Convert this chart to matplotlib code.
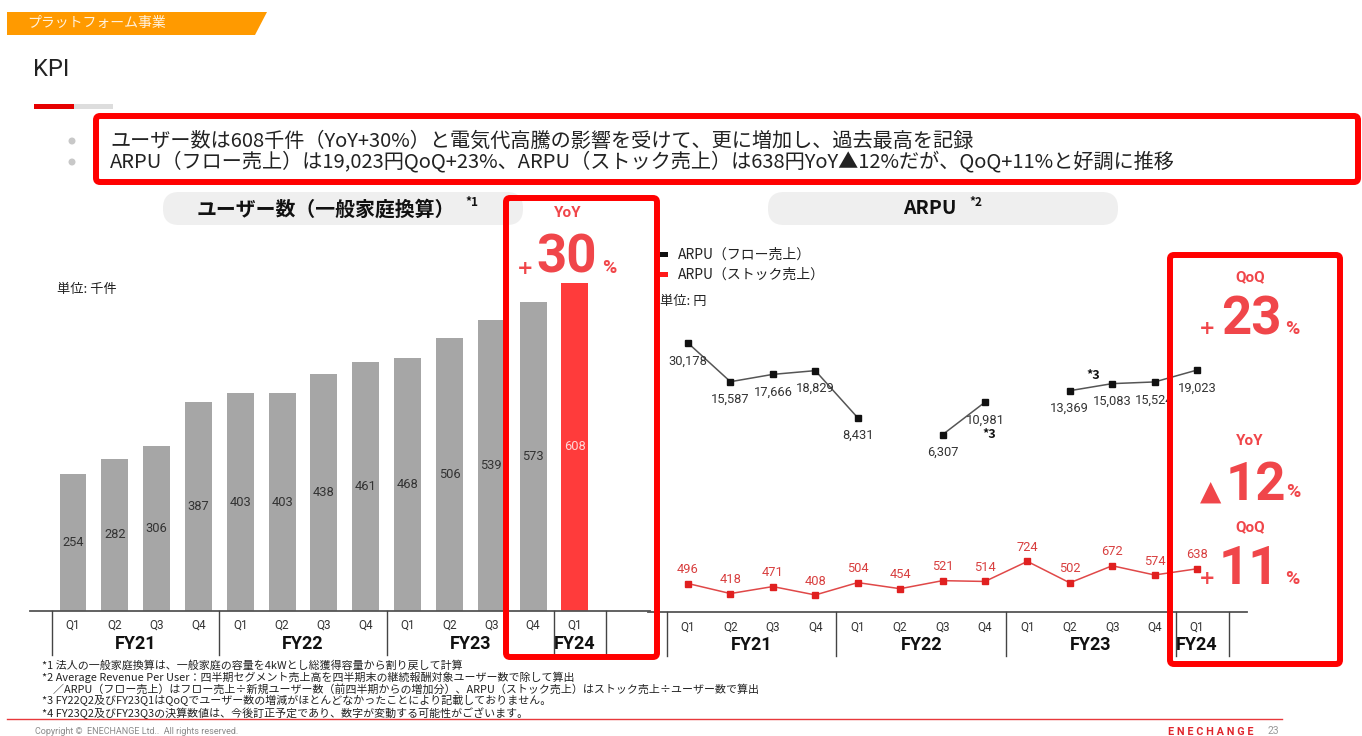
import numpy as np
import matplotlib
matplotlib.use("Agg")
import matplotlib.pyplot as plt
from matplotlib.patches import FancyBboxPatch, Polygon, Rectangle, Circle

plt.rcParams['font.family'] = ['Noto Sans CJK JP', 'DejaVu Sans']

# ---------------- data ----------------
quarters = ['Q1', 'Q2', 'Q3', 'Q4', 'Q1', 'Q2', 'Q3', 'Q4', 'Q1', 'Q2', 'Q3', 'Q4', 'Q1']
fiscal_years = ['FY21', 'FY22', 'FY23', 'FY24']
fy_groups = [(0, 3), (4, 7), (8, 11), (12, 12)]
users = [254, 282, 306, 387, 403, 403, 438, 461, 468, 506, 539, 573, 608]
arpu_flow = [30178, 15587, 17666, 18829, 8431, np.nan, 6307, 10981, np.nan, 13369, 15083, 15524, 19023]
arpu_stock = [496, 418, 471, 408, 504, 454, 521, 514, 724, 502, 672, 574, 638]

W, H = 1362, 736
fig = plt.figure(figsize=(W / 100, H / 100), dpi=100)
fig.patch.set_facecolor('white')


def rect(x0, y0, x1, y1):
    return [x0 / W, 1 - y1 / H, (x1 - x0) / W, (y1 - y0) / H]


RED_TXT = '#f0464a'
BOX_RED = '#ff0000'
RB = ['Roboto', 'DejaVu Sans']

# ---------------- background layer ----------------
bg = fig.add_axes([0, 0, 1, 1], zorder=0)
bg.set_xlim(0, W)
bg.set_ylim(H, 0)
bg.axis('off')

bg.add_patch(Polygon([(7, 12), (267, 12), (255, 35), (7, 35)], closed=True,
                     facecolor='#ff9a00', edgecolor='none'))
bg.text(27, 23, 'プラットフォーム事業', color='#fff3e0', fontsize=10, va='center', ha='left')
bg.text(33, 70, 'KPI', color='#222222', fontsize=17, va='center', ha='left', family=RB)
bg.add_patch(Rectangle((34, 104), 40, 5, facecolor='#e60000', edgecolor='none'))
bg.add_patch(Rectangle((74, 104), 39, 5, facecolor='#dddddd', edgecolor='none'))

for yy in (141, 162):
    bg.add_patch(Circle((72, yy), 3.5, facecolor='#c8c8c8', edgecolor='none'))
bg.text(110, 141, 'ユーザー数は608千件（YoY+30%）と電気代高騰の影響を受けて、更に増加し、過去最高を記録',
        fontsize=14.5, va='center', ha='left', color='#222222')
bg.text(110, 162, 'ARPU（フロー売上）は19,023円QoQ+23%、ARPU（ストック売上）は638円YoY▲12%だが、QoQ+11%と好調に推移',
        fontsize=14.5, va='center', ha='left', color='#222222')

# header pills
bg.add_patch(FancyBboxPatch((163, 192), 360, 33, boxstyle='round,pad=0,rounding_size=16',
                            facecolor='#efefef', edgecolor='none'))
bg.text(326, 209, 'ユーザー数（一般家庭換算）', fontsize=14.3, fontweight='bold', va='center',
        ha='center', color='#111111')
bg.text(472, 203, '*1', fontsize=8.5, fontweight='bold', va='center', ha='center', color='#111111')
bg.add_patch(FancyBboxPatch((768, 192), 350, 33, boxstyle='round,pad=0,rounding_size=16',
                            facecolor='#efefef', edgecolor='none'))
bg.text(930, 209, 'ARPU', fontsize=14, fontweight='bold', va='center', ha='center', color='#111111')
bg.text(976, 203, '*2', fontsize=8.5, fontweight='bold', va='center', ha='center', color='#111111')

bg.text(57, 290, '単位: 千件', fontsize=9.5, va='center', ha='left', color='#222222')

# line legend
bg.add_patch(Rectangle((660, 252), 8, 5, facecolor='#111111', edgecolor='none'))
bg.add_patch(Rectangle((660, 272), 8, 5, facecolor='#ff1a1a', edgecolor='none'))
bg.text(678, 255, 'ARPU（フロー売上）', fontsize=10, va='center', ha='left', color='#222222')
bg.text(678, 275, 'ARPU（ストック売上）', fontsize=10, va='center', ha='left', color='#222222')
bg.text(660, 301, '単位: 円', fontsize=9.5, va='center', ha='left', color='#222222')

# footnotes
notes = [
    '*1 法人の一般家庭換算は、一般家庭の容量を4kWとし総獲得容量から割り戻して計算',
    '*2 Average Revenue Per User：四半期セグメント売上高を四半期末の継続報酬対象ユーザー数で除して算出',
    '　／ARPU（フロー売上）はフロー売上÷新規ユーザー数（前四半期からの増加分）、ARPU（ストック売上）はストック売上÷ユーザー数で算出',
    '*3 FY22Q2及びFY23Q1はQoQでユーザー数の増減がほとんどなかったことにより記載しておりません。',
    '*4 FY23Q2及びFY23Q3の決算数値は、今後訂正予定であり、数字が変動する可能性がございます。',
]
for k, t in enumerate(notes):
    bg.text(42, 665 + 12 * k, t, fontsize=7.9, va='center', ha='left', color='#222222')

bg.plot([7, 1282], [719, 719], color='#e8383c', lw=1)
bg.text(35, 731, 'Copyright ©  ENECHANGE Ltd..  All rights reserved.', fontsize=6.5,
        va='center', ha='left', color='#8a8a8a', family=RB)
bg.text(1168, 732, 'E N E C H A N G E', fontsize=7.8, fontweight='bold', va='center', ha='left',
        color='#e0262d', family=RB)
bg.text(1268, 731, '23', fontsize=7.5, va='center', ha='left', color='#9a9a9a', family=RB)

# ---------------- bar chart ----------------
x = np.arange(len(users))
axb = fig.add_axes(rect(30, 230, 650, 611), zorder=5)
axb.axis('off')
bx0, bstep = 73, 41.83
axb.set_xlim((30 - bx0) / bstep, (650 - bx0) / bstep)
axb.set_ylim(0, 381 / 0.54)
colors = ['#a6a6a6'] * (len(users) - 1) + ['#ff3b3b']
axb.bar(x, users, width=0.645, color=colors, zorder=2)
for i, v in enumerate(users):
    axb.text(i, v / 2, f'{v}', ha='center', va='center', fontsize=9.3,
             color='#ffd6d6' if i == len(users) - 1 else '#333333', family=RB)
tr = axb.get_xaxis_transform()
axb.plot([-1.03, 13.79], [0, 0], transform=tr, color='#555555', lw=1.3, clip_on=False)
seps = [g[0] - 0.5 for g in fy_groups] + [12.75]
hb = 381
for s in seps:
    axb.plot([s, s], [0, -44 / hb], transform=tr, color='#444444', lw=1, clip_on=False)
for i, q in enumerate(quarters):
    axb.text(i, -14 / hb, q, transform=tr, ha='center', va='center', fontsize=8.5,
             color='#333333', family=RB, clip_on=False)
for fy, (a, b) in zip(fiscal_years, fy_groups):
    axb.text((a + b) / 2, -33 / hb, fy, transform=tr, ha='center', va='center', fontsize=13,
             fontweight='bold', color='#111111', family=RB, clip_on=False)

# ---------------- line chart (log scale) ----------------
axl = fig.add_axes(rect(648, 330, 1247, 612), zorder=5)
axl.axis('off')
lx0, lstep = 688, 42.42
axl.set_xlim((648 - lx0) / lstep, (1247 - lx0) / lstep)
axl.set_yscale('log')
axl.set_ylim(305, 37700)
axl.plot(x, arpu_flow, color='#555555', lw=1.1, marker='s', ms=3.8, mfc='#111111', mec='#111111')
axl.plot(x, arpu_stock, color='#e04848', lw=1.1, marker='s', ms=3.8, mfc='#e02020', mec='#e02020')
for i, v in enumerate(arpu_flow):
    if np.isfinite(v):
        axl.annotate(f'{int(v):,}', (i, v), xytext=(0, -13), textcoords='offset points',
                     ha='center', va='center', fontsize=9.3, color='#333333', family=RB)
for i, v in enumerate(arpu_stock):
    axl.annotate(f'{v}', (i, v), xytext=(0, 10), textcoords='offset points',
                 ha='center', va='center', fontsize=9.3, color='#d84040', family=RB)
# note *3 markers
axl.annotate('*3', (7, arpu_flow[7]), xytext=(3, -23), textcoords='offset points',
             ha='center', va='center', fontsize=9, fontweight='bold', color='#111111')
axl.annotate('*3', (9, arpu_flow[9]), xytext=(17, 11), textcoords='offset points',
             ha='center', va='center', fontsize=9, fontweight='bold', color='#111111')
trl = axl.get_xaxis_transform()
hl = 282
axl.plot([-0.943, 13.178], [0, 0], transform=trl, color='#555555', lw=1.3, clip_on=False)
for s in seps:
    axl.plot([s, s], [0, -44 / hl], transform=trl, color='#444444', lw=1, clip_on=False)
for i, q in enumerate(quarters):
    axl.text(i, -15 / hl, q, transform=trl, ha='center', va='center', fontsize=8.5,
             color='#333333', family=RB, clip_on=False)
for fy, (a, b) in zip(fiscal_years, fy_groups):
    axl.text((a + b) / 2, -33 / hl, fy, transform=trl, ha='center', va='center', fontsize=13,
             fontweight='bold', color='#111111', family=RB, clip_on=False)

# ---------------- foreground layer (highlight boxes) ----------------
fg = fig.add_axes([0, 0, 1, 1], zorder=10)
fg.set_xlim(0, W)
fg.set_ylim(H, 0)
fg.axis('off')
for (x0, y0, x1, y1) in [(96, 116, 1358, 182), (506, 198, 657, 657), (1170, 255, 1340, 664)]:
    fg.add_patch(FancyBboxPatch((x0, y0), x1 - x0, y1 - y0, boxstyle='round,pad=0,rounding_size=4',
                                facecolor='none', edgecolor=BOX_RED, lw=4.3))


def big(xc, yc, num, pre, prex, pctx, dy=9, pre_size=14):
    fg.text(xc, yc, num, fontsize=38, fontweight='bold', color=RED_TXT, ha='center', va='center', family=RB)
    fg.text(prex, yc + dy, pre, fontsize=pre_size, fontweight='bold', color=RED_TXT, ha='center',
            va='center', family=['DejaVu Sans'])
    fg.text(pctx, yc + dy, '%', fontsize=14, fontweight='bold', color=RED_TXT, ha='center', va='center', family=RB)


fg.text(568, 213, 'YoY', fontsize=11, fontweight='bold', color=RED_TXT, ha='center', va='center', family=RB)
big(567, 258, '30', '+', 525, 609, dy=10)
fg.text(1250, 277, 'QoQ', fontsize=11, fontweight='bold', color=RED_TXT, ha='center', va='center', family=RB)
big(1251, 320, '23', '+', 1207, 1292)
fg.text(1250, 441, 'YoY', fontsize=11, fontweight='bold', color=RED_TXT, ha='center', va='center', family=RB)
big(1256, 485, '12', '▲', 1211, 1293, dy=7, pre_size=20)
fg.text(1250, 527, 'QoQ', fontsize=11, fontweight='bold', color=RED_TXT, ha='center', va='center', family=RB)
big(1249, 570, '11', '+', 1207, 1292)

fig.savefig('out.png', dpi=100)
